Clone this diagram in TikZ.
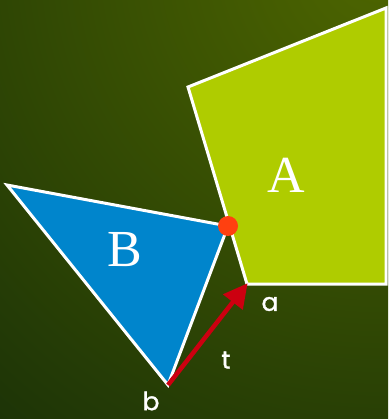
\documentclass[tikz,border=0pt]{standalone}
\usepackage{fontspec}
\newfontfamily\lblfont[FakeBold=1.2]{Poppins}
\newfontfamily\bigfont{Liberation Serif}
\usetikzlibrary{arrows.meta}
\definecolor{bgin}{HTML}{4E6600}
\definecolor{bgout}{HTML}{1B3207}
\definecolor{limeA}{HTML}{AFCC00}
\definecolor{blueB}{HTML}{0085CC}
\definecolor{redT}{HTML}{CC0010}
\definecolor{dotC}{HTML}{FF4010}
\tikzset{
  shapeline/.style={draw=white, line width=3pt, line join=miter},
  biglbl/.style={text=white, font=\bigfont\fontsize{52}{52}\selectfont},
  smalllbl/.style={text=white, font=\lblfont\fontsize{25}{25}\selectfont}
}
\begin{document}
\begin{tikzpicture}[x=1pt,y=-1pt]
\useasboundingbox (0,0) rectangle (388,419);
\begin{scope}
\clip (0,0) rectangle (388,419);
\fill[bgout] (0,0) rectangle (388,419);
\shade[inner color=bgin, outer color=bgout] (380,-40) circle (620);
\coordinate (p1) at (188,87);
\coordinate (p2) at (386,8);
\coordinate (p3) at (386,284);
\coordinate (p4) at (247,284);
\fill[limeA] (p1) -- (p2) -- (p3) -- (p4) -- cycle;
\draw[shapeline] (p1) -- (p2) -- (p3) -- (p4) -- cycle;
\coordinate (t1) at (7,185);
\coordinate (t2) at (228,226);
\coordinate (t3) at (168,385);
\fill[blueB] (t1) -- (t2) -- (t3) -- cycle;
\draw[shapeline] (t1) -- (t2) -- (t3) -- cycle;
\fill[dotC] (t2) circle (10);
\draw[redT, line width=4.5pt, -{Triangle[length=24pt,width=24pt]}, shorten >=-1pt] (t3) -- (p4);
\node[biglbl] (A) at (286,175) {A};
\node[biglbl] (B) at (125,250) {B};
\node[smalllbl] (la) at (270,304) {a};
\node[smalllbl] (lt) at (226,360) {t};
\node[smalllbl] (lb) at (151,401) {b};
\end{scope}
\end{tikzpicture}
\end{document}
